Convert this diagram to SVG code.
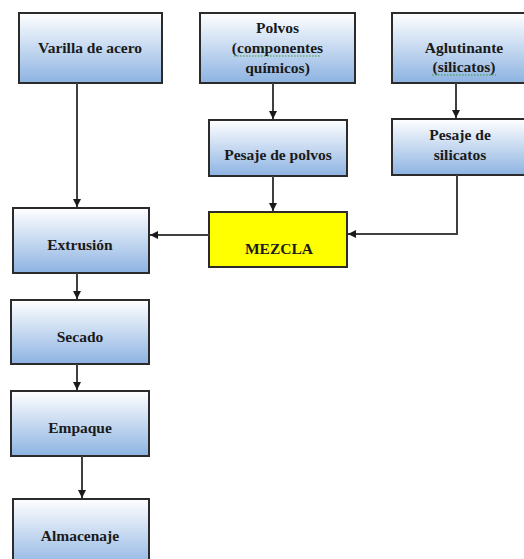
<svg xmlns="http://www.w3.org/2000/svg" width="524" height="559" viewBox="0 0 524 559">
<defs>
<linearGradient id="g" x1="0" y1="0" x2="0" y2="1">
<stop offset="0" stop-color="#ffffff"/>
<stop offset="1" stop-color="#8db3e2"/>
</linearGradient>
<marker id="ah" viewBox="0 0 10 10" refX="10" refY="5" markerWidth="8" markerHeight="8" markerUnits="userSpaceOnUse" orient="auto">
<path d="M0,0 L10,5 L0,10 z" fill="#1a1a1a"/>
</marker>
<style>
.box{fill:url(#g);stroke:#2b2b2b;stroke-width:2}
.yel{fill:#ffff00;stroke:#2b2b2b;stroke-width:2}
text{font-family:"Liberation Serif","Times New Roman",serif;font-weight:bold;font-size:15.5px;fill:#1a1a1a;text-anchor:middle}
.c{fill:none;stroke:#404040;stroke-width:2;marker-end:url(#ah)}
.sq{fill:none;stroke:#3a9a3a;stroke-width:1;stroke-dasharray:1.5 1.5}
</style>
</defs>
<g id="varilla"><rect class="box" x="19" y="13" width="143" height="70"/><text x="90" y="53">Varilla de acero</text></g>
<g id="polvos"><rect class="box" x="200" y="13" width="155" height="70"/><text x="277.5" y="33">Polvos</text><text x="277.5" y="53">(componentes</text><text x="277.5" y="73">químicos)</text><path class="sq" d="M234,56 L321,56"/></g>
<g id="aglutinante"><rect class="box" x="392" y="13" width="146" height="70"/><text x="464" y="53">Aglutinante</text><text x="464" y="72">(silicatos)</text><path class="sq" d="M432,75 L496,75"/></g>
<g id="pesaje-polvos"><rect class="box" x="209" y="120" width="138" height="56"/><text x="278" y="160">Pesaje de polvos</text></g>
<g id="pesaje-silicatos"><rect class="box" x="392" y="119" width="138" height="56"/><text x="460" y="140">Pesaje de</text><text x="460" y="160">silicatos</text></g>
<g id="mezcla"><rect class="yel" x="209" y="212" width="138" height="55"/><text x="279" y="254">MEZCLA</text></g>
<g id="extrusion"><rect class="box" x="13" y="208" width="136" height="65"/><text x="80" y="250">Extrusión</text></g>
<g id="secado"><rect class="box" x="11" y="300" width="138" height="64"/><text x="80" y="342">Secado</text></g>
<g id="empaque"><rect class="box" x="11" y="391" width="138" height="65"/><text x="80" y="433">Empaque</text></g>
<g id="almacenaje"><rect class="box" x="13" y="499" width="136" height="70"/><text x="80" y="541">Almacenaje</text></g>
<g id="connectors">
<path class="c" d="M77,83 L77,207"/>
<path class="c" d="M273,83 L273,119"/>
<path class="c" d="M456,83 L456,118"/>
<path class="c" d="M273,176 L273,211"/>
<path class="c" d="M457,175 L457,234 L348,234"/>
<path class="c" d="M209,235 L150,235"/>
<path class="c" d="M77,273 L77,299"/>
<path class="c" d="M77,364 L77,390"/>
<path class="c" d="M82,456 L82,498"/>
</g>
</svg>
